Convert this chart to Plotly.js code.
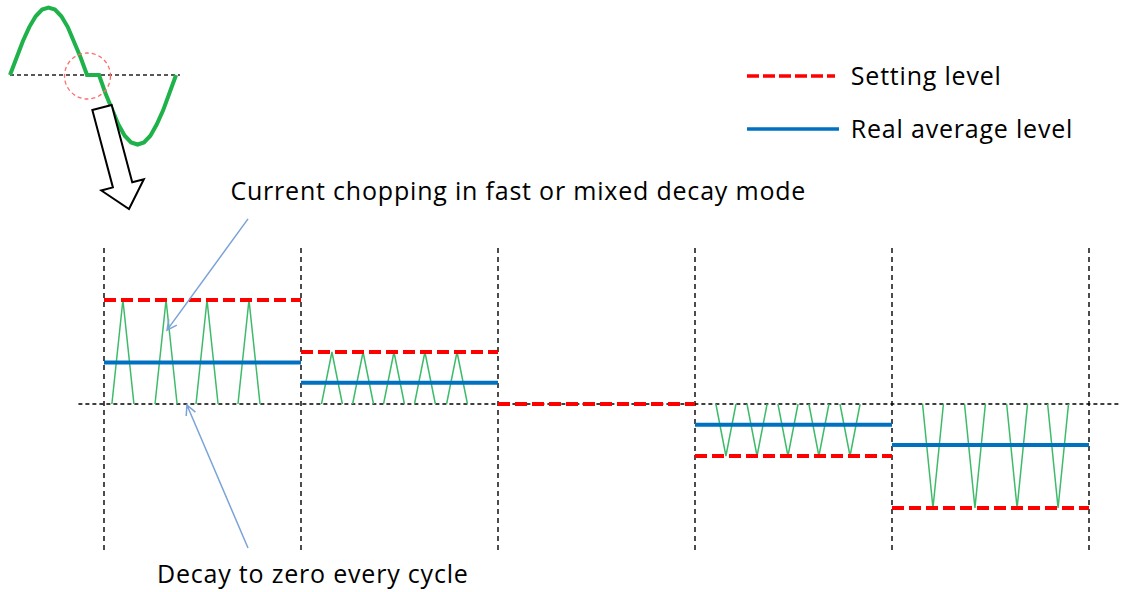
<!DOCTYPE html>
<html><head><meta charset="utf-8">
<script src="https://cdn.plot.ly/plotly-3.0.1.min.js"></script>
<style>html,body{margin:0;padding:0;background:#fff;} #chart{width:1130px;height:592px;}
#chart .annotation-text{letter-spacing:0.8px;}</style>
</head><body><div id="chart"></div>
<script>
// ---------------- data ----------------
const segmentBounds = [0, 1, 2, 3, 4, 5];
const settingLevel = [2, 1, 0, -1, -2];
const averageLevel = [0.80, 0.41, 0, -0.40, -0.79];
const chopCenters = [
  [0.096, 0.315, 0.523, 0.736],
  [1.157, 1.315, 1.472, 1.629, 1.792],
  [],
  [3.157, 3.315, 3.472, 3.629, 3.787],
  [4.208, 4.421, 4.635, 4.843]
];
const chopHalfWidth = [0.056, 0.053, 0, 0.051, 0.053];
const zeroLineSpan = [-0.13, 5.16];
const dividerSpan = [-2.81, 3.03];

// inset: motor phase current (phase in degrees, normalised amplitude)
const sinePhase = [0,15,30,45,60,75,90,105,120,135,150,165,180,
                   208,223,238,253,268,283,298,313,328,343,358,373,388];
const sineValue = [0,0.26,0.5,0.71,0.87,0.97,1,0.97,0.87,0.71,0.5,0.26,0,
                   0,-0.27,-0.52,-0.73,-0.9,-1,-1.03,-1,-0.9,-0.73,-0.52,-0.27,0];
const insetBaseSpan = [0, 397];

const legendLabels = ['Setting level', 'Real average level'];
const noteChopping = 'Current chopping in fast or mixed decay mode';
const noteDecay = 'Decay to zero every cycle';

// ---------------- geometry helpers ----------------
const W = 1130, H = 592;
const U0 = 104, UPX = 197, V0 = 404, VPX = 52;       // main axes scale
const T0 = 10, TPX = 0.428, A0 = 75, APX = 67.5;      // inset axes scale
const PX = p => p / W, PY = p => 1 - p / H;
const uPx = u => U0 + UPX * u, vPx = v => V0 - VPX * v;

const RED = '#ff0000', BLUE = '#0070c0', GREEN = '#3dbb6a', NOTE = '#7ba3d8';
const FONT = '"Open Sans", "Noto Sans", sans-serif';
const LS = 0.8;

// ---------------- traces ----------------
const traces = [];
traces.push({x: zeroLineSpan, y: [0, 0], mode: 'lines', hoverinfo: 'skip',
  line: {color: '#000', width: 1.4, dash: '4px,3px'}});
const dx = [], dy = [];
segmentBounds.forEach(b => { dx.push(b, b, null); dy.push(dividerSpan[0], dividerSpan[1], null); });
traces.push({x: dx, y: dy, mode: 'lines', hoverinfo: 'skip', line: {color: '#000', width: 1.4, dash: '5px,4px'}});
const cx = [], cy = [];
chopCenters.forEach((list, i) => list.forEach(c => {
  cx.push(c - chopHalfWidth[i], c, c + chopHalfWidth[i], null);
  cy.push(0, settingLevel[i], 0, null);
}));
traces.push({x: cx, y: cy, mode: 'lines', hoverinfo: 'skip', line: {color: GREEN, width: 1.5}});
const ax = [], ay = [];
averageLevel.forEach((v, i) => { if (v !== 0) { ax.push(segmentBounds[i], segmentBounds[i + 1], null); ay.push(v, v, null); } });
traces.push({x: ax, y: ay, mode: 'lines', hoverinfo: 'skip', line: {color: BLUE, width: 4}});
const sx = [], sy = [];
settingLevel.forEach((v, i) => { sx.push(segmentBounds[i], segmentBounds[i + 1], null); sy.push(v, v, null); });
traces.push({x: sx, y: sy, mode: 'lines', hoverinfo: 'skip', line: {color: RED, width: 4, dash: '12px,5px'}});
traces.push({x: insetBaseSpan, y: [0, 0], xaxis: 'x2', yaxis: 'y2', mode: 'lines', hoverinfo: 'skip',
  line: {color: '#222', width: 1.3, dash: '4px,3px'}});
traces.push({x: sinePhase, y: sineValue, xaxis: 'x2', yaxis: 'y2', mode: 'lines', hoverinfo: 'skip',
  line: {color: '#1fb24a', width: 4}});

// ---------------- shapes ----------------
const shapes = [];
shapes.push({type: 'circle', xref: 'x2', yref: 'y2',
  x0: (87.5 - 23 - T0) / TPX, x1: (87.5 + 23 - T0) / TPX,
  y0: (A0 - 99) / APX, y1: (A0 - 53) / APX,
  line: {color: '#ff6b6b', width: 1.3, dash: '4px,3px'}});
(function () {
  const tc = [102, 107.5], tip = [129, 209];
  const L = Math.hypot(tip[0] - tc[0], tip[1] - tc[1]);
  const d = [(tip[0] - tc[0]) / L, (tip[1] - tc[1]) / L], n = [d[1], -d[0]];
  const sw = 10, hw = 22, hl = 25;
  const P = (a, b) => [tc[0] + a * d[0] + b * n[0], tc[1] + a * d[1] + b * n[1]];
  const pts = [P(0, -sw), P(0, sw), P(L - hl, sw), P(L - hl, hw), P(L, 0), P(L - hl, -hw), P(L - hl, -sw)];
  const path = pts.map((p, i) => (i ? 'L' : 'M') + PX(p[0]).toFixed(5) + ',' + PY(p[1]).toFixed(5)).join(' ') + ' Z';
  shapes.push({type: 'path', xref: 'paper', yref: 'paper', path, fillcolor: '#fff', line: {color: '#000', width: 2}});
})();
function noteArrow(tail, tip) {
  const L = Math.hypot(tip[0] - tail[0], tip[1] - tail[1]);
  const d = [(tip[0] - tail[0]) / L, (tip[1] - tail[1]) / L];
  const len = 11, a = 27 * Math.PI / 180;
  const rot = (s) => [d[0] * Math.cos(s) - d[1] * Math.sin(s), d[0] * Math.sin(s) + d[1] * Math.cos(s)];
  const r1 = rot(a), r2 = rot(-a);
  const h1 = [tip[0] - len * r1[0], tip[1] - len * r1[1]], h2 = [tip[0] - len * r2[0], tip[1] - len * r2[1]];
  const f = p => PX(p[0]).toFixed(5) + ',' + PY(p[1]).toFixed(5);
  shapes.push({type: 'path', xref: 'paper', yref: 'paper',
    path: 'M' + f(tail) + ' L' + f(tip) + ' M' + f(h1) + ' L' + f(tip) + ' L' + f(h2),
    line: {color: NOTE, width: 1.5}});
}
noteArrow([uPx(0.731), vPx(3.56)], [uPx(0.320), vPx(1.42)]);
noteArrow([uPx(0.731), vPx(-2.77)], [uPx(0.421), vPx(-0.02)]);
shapes.push({type: 'line', xref: 'paper', yref: 'paper', x0: PX(747), x1: PX(835), y0: PY(76), y1: PY(76),
  line: {color: RED, width: 3.5, dash: '12px,4px'}});
shapes.push({type: 'line', xref: 'paper', yref: 'paper', x0: PX(747), x1: PX(839), y0: PY(129), y1: PY(129),
  line: {color: BLUE, width: 3.5}});

// ---------------- annotations ----------------
// x compensates for letter-spacing, which Plotly does not measure when centring the text
const txt = (text, xp, yp) => ({text, xref: 'paper', yref: 'paper',
  x: PX(xp - 2 + LS * text.length / 2), y: PY(yp),
  xanchor: 'left', yanchor: 'middle', showarrow: false, font: {family: FONT, size: 25, color: '#000'}});
const annotations = [
  txt(legendLabels[0], 851, 75),
  txt(legendLabels[1], 851, 128),
  txt(noteChopping, 230, 190),
  txt(noteDecay, 157, 573)
];

const layout = {
  width: W, height: H, margin: {l: 0, r: 0, t: 0, b: 0},
  paper_bgcolor: '#fff', plot_bgcolor: 'rgba(0,0,0,0)', showlegend: false,
  xaxis: {range: [-U0 / UPX, (W - U0) / UPX], visible: false, fixedrange: true, domain: [0, 1]},
  yaxis: {range: [(V0 - H) / VPX, V0 / VPX], visible: false, fixedrange: true, domain: [0, 1]},
  xaxis2: {range: [-T0 / TPX, (200 - T0) / TPX], visible: false, fixedrange: true, domain: [0, 200 / W], anchor: 'y2'},
  yaxis2: {range: [(A0 - 220) / APX, A0 / APX], visible: false, fixedrange: true, domain: [1 - 220 / H, 1], anchor: 'x2'},
  shapes, annotations
};
Plotly.newPlot('chart', traces, layout, {staticPlot: true, displayModeBar: false});
</script></body></html>
